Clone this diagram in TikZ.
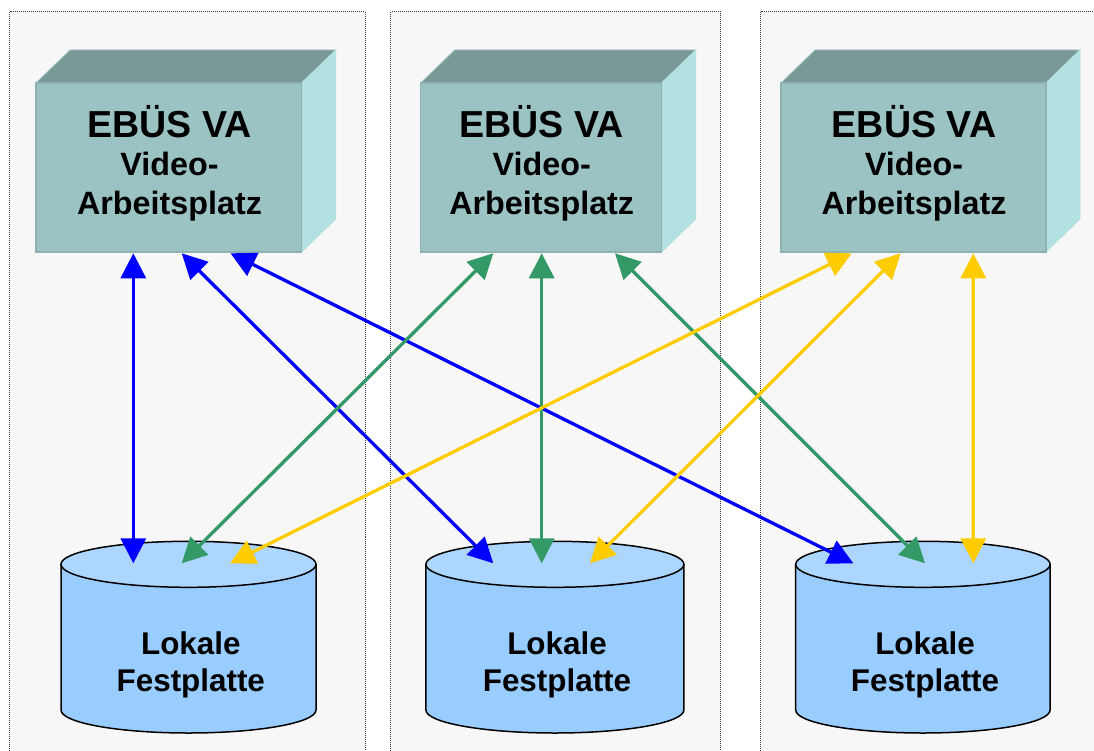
\documentclass[tikz,border=0pt]{standalone}
\usepackage{fontspec}
\setmainfont{Liberation Sans}
\usetikzlibrary{arrows.meta}
\definecolor{panelbg}{HTML}{F7F7F7}
\definecolor{paneledge}{HTML}{3A3A3A}
\definecolor{frontc}{HTML}{9CC3C3}
\definecolor{frontedge}{HTML}{8DB2B0}
\definecolor{topc}{HTML}{7A9996}
\definecolor{sidec}{HTML}{B3E0E0}
\definecolor{disktop}{HTML}{ADD6FF}
\definecolor{diskbody}{HTML}{99CCFF}
\definecolor{cblue}{HTML}{0000FF}
\definecolor{cgreen}{HTML}{339966}
\definecolor{cyellow}{HTML}{FFCC00}
\begin{document}
\begin{tikzpicture}[x=1pt,y=-1pt,
  panel/.style={fill=panelbg,draw=paneledge,line width=1pt,dash pattern=on 1pt off 1pt},
  front/.style={fill=frontc,draw=frontedge,line width=1.5pt,minimum height=169pt,inner sep=0pt,outer sep=0pt},
  topface/.style={fill=topc,draw=frontc,line width=0.8pt},
  sideface/.style={fill=sidec,draw=sidec,line width=0.8pt},
  diskanchor/.style={minimum width=255pt,minimum height=147.4pt,inner sep=0pt,outer sep=0pt},
  diskbodyst/.style={fill=diskbody,draw=black,line width=1.5pt},
  disktopst/.style={fill=disktop,draw=black,line width=1.5pt},
  titletext/.style={anchor=base,inner sep=0pt,font=\bfseries\fontsize{37.6}{45}\selectfont},
  subtext/.style={anchor=base,inner sep=0pt,font=\bfseries\fontsize{32.3}{39}\selectfont},
  disktext/.style={anchor=base,inner sep=0pt,font=\bfseries\fontsize{31.4}{38}\selectfont},
  link/.style={line width=3.3pt,{Triangle[length=25pt,width=25pt]}-{Triangle[length=25pt,width=25pt]}},
  bluelink/.style={link,draw=cblue,fill=cblue},
  greenlink/.style={link,draw=cgreen,fill=cgreen},
  yellowlink/.style={link,draw=cyellow,fill=cyellow}
]
\useasboundingbox (0,0) rectangle (1094,751);
\fill[white] (0,0) rectangle (1094,751);
\clip (0,0) rectangle (1094,751);

% panels
\draw[panel] (9.5,12) rectangle (365,780);
\draw[panel] (390.7,12) rectangle (720.7,780);
\draw[panel] (760.7,12) rectangle (1120,780);

% boxes
\node[front,minimum width=265.7pt] (va1) at (168.85,167.5) {};
\node[front,minimum width=241pt] (va2) at (541.2,167.5) {};
\node[front,minimum width=265pt] (va3) at (913.5,167.5) {};
\foreach \b in {va1,va2,va3}{
  \fill[topface] (\b.north west) -- ++(34,-33) -| ([shift={(34,-33)}]\b.north east) -- (\b.north east) -- cycle;
  \fill[sideface] (\b.north east) -- ++(34,-33) -- ++(0,169) -- (\b.south east) -- cycle;
}
\node[front,minimum width=265.7pt] at (va1) {};
\node[front,minimum width=241pt] at (va2) {};
\node[front,minimum width=265pt] at (va3) {};

\node[titletext] (ta1) at (169.5,138) {EBÜS VA};
\node[subtext] (tb1) at (169.5,176) {Video-};
\node[subtext] (tc1) at (169.5,215) {Arbeitsplatz};
\node[titletext] (ta2) at (541.7,138) {EBÜS VA};
\node[subtext] (tb2) at (541.7,176) {Video-};
\node[subtext] (tc2) at (541.7,215) {Arbeitsplatz};
\node[titletext] (ta3) at (914,138) {EBÜS VA};
\node[subtext] (tb3) at (914,176) {Video-};
\node[subtext] (tc3) at (914,215) {Arbeitsplatz};

% disks
\node[diskanchor] (disk1) at (188.5,637) {};
\node[diskanchor] (disk2) at (554.9,637) {};
\node[diskanchor] (disk3) at (922.9,637) {};
\foreach \cx/\rx in {188.5/127.5,554.9/129,922.9/127.2}{
  \filldraw[diskbodyst] (\cx-\rx,564.3) -- (\cx-\rx,710)
     arc[start angle=180,end angle=360,x radius=\rx pt,y radius=23pt]
     -- (\cx+\rx,564.3) -- cycle;
  \filldraw[disktopst] (\cx,564.3) ellipse[x radius=\rx pt,y radius=23pt];
}
\node[disktext] (la1) at (190.8,654) {Lokale};
\node[disktext] (lb1) at (190.8,691.7) {Festplatte};
\node[disktext] (la2) at (557,654) {Lokale};
\node[disktext] (lb2) at (557,691.7) {Festplatte};
\node[disktext] (la3) at (925,654) {Lokale};
\node[disktext] (lb3) at (925,691.7) {Festplatte};

% connectors
\draw[bluelink] ([xshift=-35.55pt,yshift=-1.3pt]va1.south) -- ([xshift=-55.2pt]disk1.north);
\draw[bluelink] ([xshift=12.85pt,yshift=-1.3pt]va1.south) -- ([xshift=-61.6pt]disk2.north);
\draw[bluelink] ([xshift=61.65pt,yshift=-1.3pt]va1.south) -- ([xshift=-69.6pt]disk3.north);

\draw[greenlink] ([xshift=-47.9pt,yshift=-1.3pt]va2.south) -- ([xshift=-6.8pt]disk1.north);
\draw[greenlink] ([xshift=0.5pt,yshift=-1.3pt]va2.south) -- ([xshift=-13.2pt]disk2.north);
\draw[greenlink] ([xshift=73.8pt,yshift=-1.3pt]va2.south) -- ([xshift=2.1pt]disk3.north);

\draw[yellowlink] ([xshift=-61.8pt,yshift=-1.3pt]va3.south) -- ([xshift=41.5pt]disk1.north);
\draw[yellowlink] ([xshift=-12.8pt,yshift=-1.3pt]va3.south) -- ([xshift=35.1pt]disk2.north);
\draw[yellowlink] ([xshift=59.8pt,yshift=-1.3pt]va3.south) -- ([xshift=50.4pt]disk3.north);
\end{tikzpicture}
\end{document}
